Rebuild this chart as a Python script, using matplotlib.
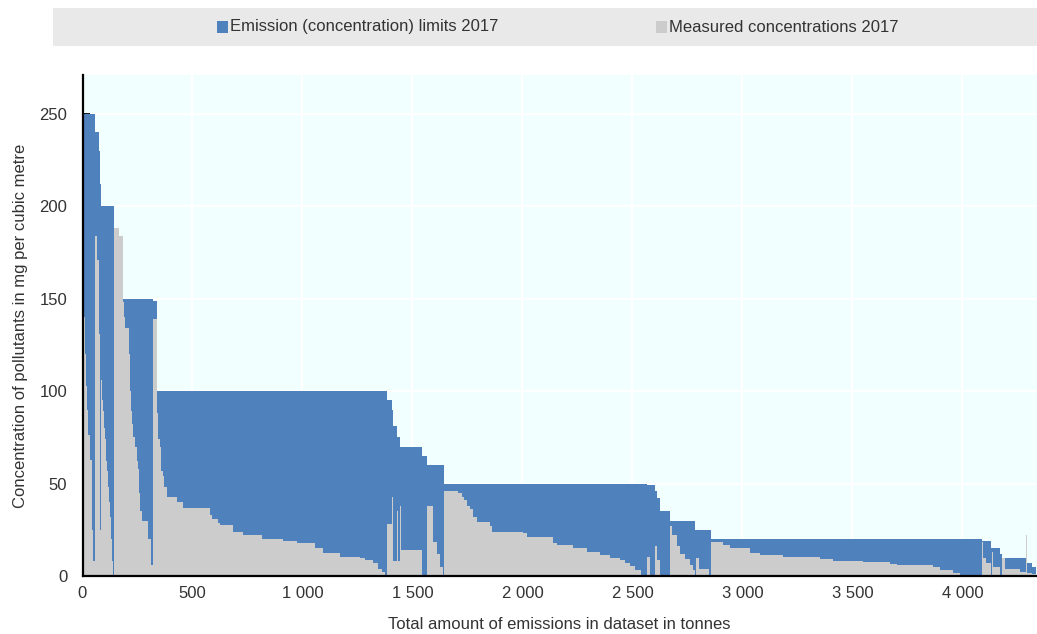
import matplotlib
matplotlib.use("Agg")
import matplotlib.pyplot as plt
from matplotlib.patches import Rectangle
from matplotlib.ticker import FuncFormatter
import numpy as np

# ==== Data: one entry per installation, sorted by limit then by measured value ====
# right edge of each installation on the cumulative emissions axis (tonnes)
cum_tonnes = [
    7, 9, 11, 16, 20, 26, 34, 42, 45, 49, 55,
    65, 75, 78, 82,
    86, 89, 93, 98, 102, 107, 113, 117, 122, 127, 130, 134, 137, 140, 143,
    166, 185,
    190, 193, 213, 216, 220, 225, 231, 239, 246, 254, 258, 261, 269, 299, 310, 319,
    340,
    345, 352, 357, 365, 370, 383, 385, 428, 458, 580, 587, 617, 625, 684, 730,
    816, 911, 975, 1057, 1093, 1170, 1261, 1284, 1320, 1343, 1361, 1377, 1385,
    1405, 1410, 1413, 1428, 1431, 1435, 1443, 1448, 1542, 1567,
    1592, 1610, 1625, 1637, 1645,
    1708, 1724, 1734, 1746, 1761, 1776, 1792, 1852, 1860, 2004, 2019, 2140,
    2155, 2231, 2292, 2352, 2398, 2443, 2466, 2489, 2511, 2539, 2564,
    2580, 2602, 2610, 2625, 2670,
    2680, 2702, 2716, 2739, 2761, 2776, 2784, 2789, 2802, 2848, 2855,
    2913, 2943, 3034, 3080, 3184, 3352, 3411, 3548, 3670, 3702, 3866, 3898,
    3957, 3989, 4087,
    4095, 4107, 4128, 4134, 4140, 4170, 4178, 4193, 4261, 4291, 4295, 4315, 4334,
]

# emission (concentration) limit, mg per cubic metre
limit_mg = [
    250, 250, 250, 250, 250, 250, 250, 250, 250, 250, 250,
    240, 240, 230, 212,
    200, 200, 200, 200, 200, 200, 200, 200, 200, 200, 200, 200, 200, 200, 200,
    188, 184,
    150, 150, 150, 150, 150, 150, 150, 150, 150, 150, 150, 150, 150, 150, 150, 150,
    149,
    100, 100, 100, 100, 100, 100, 100, 100, 100, 100, 100, 100, 100, 100, 100,
    100, 100, 100, 100, 100, 100, 100, 100, 100, 100, 100, 100, 100,
    95, 90, 81, 81, 81, 75, 75, 70, 70, 65,
    60, 60, 60, 60, 60,
    50, 50, 50, 50, 50, 50, 50, 50, 50, 50, 50, 50,
    50, 50, 50, 50, 50, 50, 50, 50, 50, 50, 50,
    49, 49, 46, 42, 35,
    30, 30, 30, 30, 30, 30, 30, 25, 25, 25, 25,
    20, 20, 20, 20, 20, 20, 20, 20, 20, 20, 20, 20,
    20, 20, 20,
    19, 19, 19, 15, 15, 15, 12, 10, 10, 10, 7, 7, 5,
]

# measured concentration 2017, mg per cubic metre
measured_mg = [
    188, 160, 140, 120, 103, 90, 76, 63, 45, 25, 8,
    184, 171, 131, 25,
    120, 106, 95, 89, 80, 74, 62, 57, 48, 40, 32, 20, 8, 4, 0,
    188, 184,
    148, 140, 134, 120, 100, 89, 82, 75, 70, 62, 58, 45, 35, 30, 20, 6,
    139,
    88, 74, 70, 57, 54, 48, 44, 43, 40, 37, 33, 31, 28.5, 27.6, 24,
    22, 19.8, 19.1, 17.7, 15, 12.6, 10.5, 9.5, 8.7, 7.2, 4, 2, 0,
    28, 43, 43, 8, 35, 35, 8, 38, 14, 0,
    38, 18.6, 12, 5, 0,
    46, 45, 43, 41, 38, 36, 32, 29.4, 27, 24, 23, 21.3,
    17.7, 16.8, 15, 13.2, 11.4, 10, 8.5, 7, 5.5, 3.2, 0,
    10.5, 0, 16, 8.7, 0,
    27, 22, 16, 12, 9, 6, 3, 0, 10, 4, 0,
    18.6, 16.8, 15, 12.3, 11.4, 10.3, 9, 8.1, 7.8, 6.5, 6, 5,
    3.2, 1.6, 0,
    18.6, 10, 7, 0, 13.2, 5, 0, 9.7, 4, 2, 22, 1.5, 1,
]

series_labels = ["Emission (concentration) limits 2017", "Measured concentrations 2017"]
x_ticks = np.arange(0, 4001, 500)
y_ticks = np.arange(0, 251, 50)

# ==== Style ====
plt.rcParams['font.family'] = ['Liberation Sans Narrow', 'Liberation Sans', 'DejaVu Sans']
blue = '#4f81bd'
grey = '#cccccc'
text_col = '#333333'
fs = 12

fig = plt.figure(figsize=(10.37, 6.34), dpi=100)
ax = fig.add_axes([82.5 / 1037, 58 / 634, 1 - 82.5 / 1037, (576 - 75) / 634])
ax.set_facecolor('#f2ffff')

# step areas drawn as single polygons (no seams between installations)
edges = np.concatenate([[0], cum_tonnes])
lim_y = np.append(limit_mg, limit_mg[-1])
mea_y = np.append(measured_mg, measured_mg[-1])
ax.fill_between(edges, 0, lim_y, step='post', color=blue, linewidth=0, zorder=2)
ax.fill_between(edges, 0, mea_y, step='post', color=grey, linewidth=0, zorder=3)

ax.set_xlim(0, 4339)
ax.set_ylim(0, 271)
ax.set_xticks(x_ticks)
ax.set_yticks(y_ticks)
ax.xaxis.set_major_formatter(FuncFormatter(lambda v, p: f"{v:,.0f}".replace(',', ' ')))
ax.grid(True, color='white', linewidth=1.5, zorder=1)
ax.set_axisbelow(True)

for s in ['top', 'right']:
    ax.spines[s].set_visible(False)
for s in ['left', 'bottom']:
    ax.spines[s].set_linewidth(1.6)
    ax.spines[s].set_color('black')
    ax.spines[s].set_zorder(5)

ax.tick_params(axis='both', direction='in', length=5, width=1.3, colors='black',
               labelsize=fs, labelcolor=text_col)
ax.tick_params(axis='y', pad=11)
ax.tick_params(axis='x', pad=7)

ax.set_xlabel("Total amount of emissions in dataset in tonnes", fontsize=fs, color=text_col, labelpad=12)
ax.set_ylabel("Concentration of pollutants in mg per cubic metre", fontsize=fs, color=text_col, labelpad=8)

# ==== Legend band ====
W, H = 1037, 634
fig.patches.append(Rectangle((53 / W, 1 - 46 / H), (W - 53) / W, 38 / H,
                             transform=fig.transFigure, facecolor='#e9e9e9', edgecolor='none', zorder=0))
for xs, col, lab in [(217, blue, series_labels[0]), (656, grey, series_labels[1])]:
    fig.patches.append(Rectangle((xs / W, 1 - 33 / H), 11 / W, 12 / H,
                                 transform=fig.transFigure, facecolor=col, edgecolor='none'))
    fig.text((xs + 13) / W, 1 - 27 / H, lab, fontsize=fs, color=text_col, va='center', ha='left')

fig.savefig('out.png', dpi=100)
